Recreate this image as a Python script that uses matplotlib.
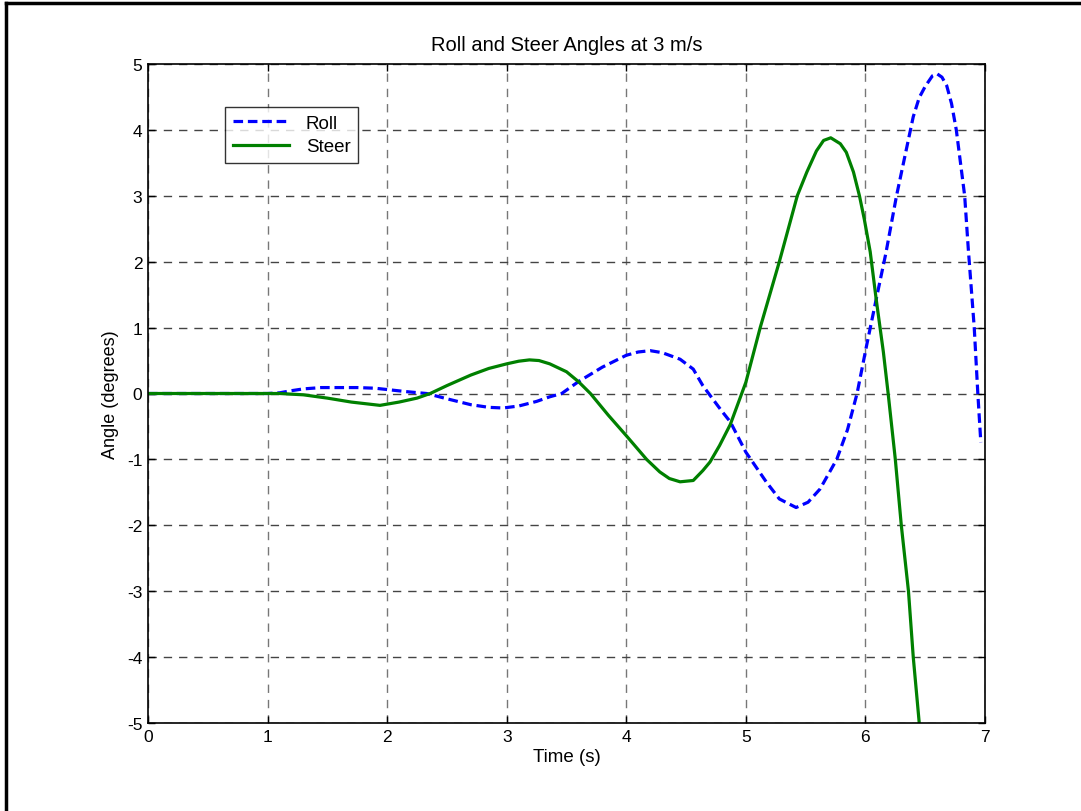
import matplotlib
matplotlib.use("Agg")
import matplotlib.pyplot as plt
from matplotlib.lines import Line2D

# ---- data ----
roll_t = [0, 1.0, 1.1, 1.19, 1.3, 1.45, 1.6, 1.75, 1.9, 2.0, 2.15, 2.33, 2.5, 2.7,
          2.85, 2.97, 3.1, 3.25, 3.36, 3.46, 3.6, 3.8, 4.0, 4.1, 4.2, 4.3, 4.45,
          4.56, 4.64, 4.73, 4.8, 4.87, 5.0, 5.17, 5.28, 5.42, 5.52, 5.62, 5.76, 5.85,
          5.93, 6.01, 6.09, 6.17, 6.26, 6.33, 6.4, 6.45, 6.5, 6.56, 6.6, 6.64, 6.68,
          6.72, 6.76, 6.83, 6.86, 6.91, 6.94, 6.965]
roll_v = [0, 0, 0.01, 0.04, 0.07, 0.09, 0.09, 0.09, 0.08, 0.06, 0.03, 0.0, -0.08, -0.17,
          -0.21, -0.22, -0.19, -0.12, -0.05, 0.0, 0.18, 0.40, 0.58, 0.63, 0.65, 0.62, 0.52,
          0.37, 0.12, -0.10, -0.27, -0.43, -0.89, -1.34, -1.60, -1.73, -1.65, -1.45, -1.0, -0.55,
          0.0, 0.73, 1.43, 2.12, 3.0, 3.6, 4.2, 4.49, 4.66, 4.82, 4.85, 4.8, 4.67,
          4.4, 4.0, 3.0, 2.2, 1.0, 0.0, -0.74]

steer_t = [0, 1.1, 1.3, 1.5, 1.7, 1.94, 2.1, 2.25, 2.36, 2.5, 2.7, 2.85, 3.0, 3.1,
           3.19, 3.27, 3.36, 3.5, 3.6, 3.7, 3.85, 4.0, 4.17, 4.28, 4.36, 4.45, 4.56, 4.64,
           4.70, 4.78, 4.87, 5.0, 5.12, 5.28, 5.43, 5.51, 5.59, 5.65, 5.71, 5.79, 5.84,
           5.9, 5.95, 5.99, 6.04, 6.09, 6.15, 6.19, 6.25, 6.30, 6.36, 6.40, 6.45, 6.47]
steer_v = [0, 0, -0.02, -0.07, -0.13, -0.18, -0.13, -0.07, 0.0, 0.12, 0.28, 0.38, 0.45, 0.49,
           0.51, 0.50, 0.45, 0.33, 0.18, 0.0, -0.33, -0.64, -1.0, -1.19, -1.29, -1.34, -1.32, -1.17,
           -1.04, -0.79, -0.47, 0.17, 1.0, 2.0, 3.0, 3.36, 3.68, 3.84, 3.88, 3.79, 3.66,
           3.36, 3.0, 2.65, 2.15, 1.43, 0.63, 0.0, -1.0, -2.0, -3.0, -4.0, -5.0, -5.3]

x_ticks = [0, 1, 2, 3, 4, 5, 6, 7]
y_ticks = [-5, -4, -3, -2, -1, 0, 1, 2, 3, 4, 5]

plt.rcParams['font.family'] = ['Liberation Sans', 'DejaVu Sans']

fig = plt.figure(figsize=(10.81, 8.12), dpi=100)
ax = fig.add_axes([148/1081, 1-724/812, (985-148)/1081, (724-65)/812])

ax.plot(roll_t, roll_v, color='#0000ff', linestyle=(0, (3.0, 1.5)), linewidth=2.3, label='Roll')
ax.plot(steer_t, steer_v, color='#008000', linestyle='-', linewidth=2.3, label='Steer')

ax.set_xlim(0, 7)
ax.set_ylim(-5, 5)
ax.set_xticks(x_ticks)
ax.set_yticks(y_ticks)
ax.set_xticklabels([str(v) for v in x_ticks])
ax.set_yticklabels([str(v) for v in y_ticks])

ax.xaxis.grid(True, color='#777777', linestyle=(0, (6, 5)), linewidth=1.0)
ax.yaxis.grid(True, color='#444444', linestyle=(0, (6, 5)), linewidth=1.0)
ax.set_axisbelow(True)

ax.tick_params(direction='in', length=5, width=1, top=True, right=True,
               labelsize=12.5, pad=4, colors='black')
for s in ax.spines.values():
    s.set_linewidth(1.2)
    s.set_color('black')

ax.set_title('Roll and Steer Angles at 3 m/s', fontsize=14.5, pad=10)
ax.set_xlabel('Time (s)', fontsize=13.5, labelpad=3)
ax.set_ylabel('Angle (degrees)', fontsize=13, labelpad=6)

leg = ax.legend(loc='upper left', bbox_to_anchor=((225-148)/837, (724-108)/659),
                fontsize=13.5, frameon=True, fancybox=False, shadow=False,
                borderaxespad=0, handlelength=3.0, borderpad=0.4, labelspacing=0.35,
                handletextpad=0.9)
leg.get_frame().set_edgecolor('black')
leg.get_frame().set_linewidth(1.0)

# figure border (top and left edges visible in the reference)
fig.add_artist(Line2D([6/1081, 6/1081], [0, 1-4/812], transform=fig.transFigure,
                      color='black', linewidth=2.5))
fig.add_artist(Line2D([6/1081, 1], [1-4/812, 1-4/812], transform=fig.transFigure,
                      color='black', linewidth=2.5))

fig.savefig('out.png', dpi=100, facecolor='white')
